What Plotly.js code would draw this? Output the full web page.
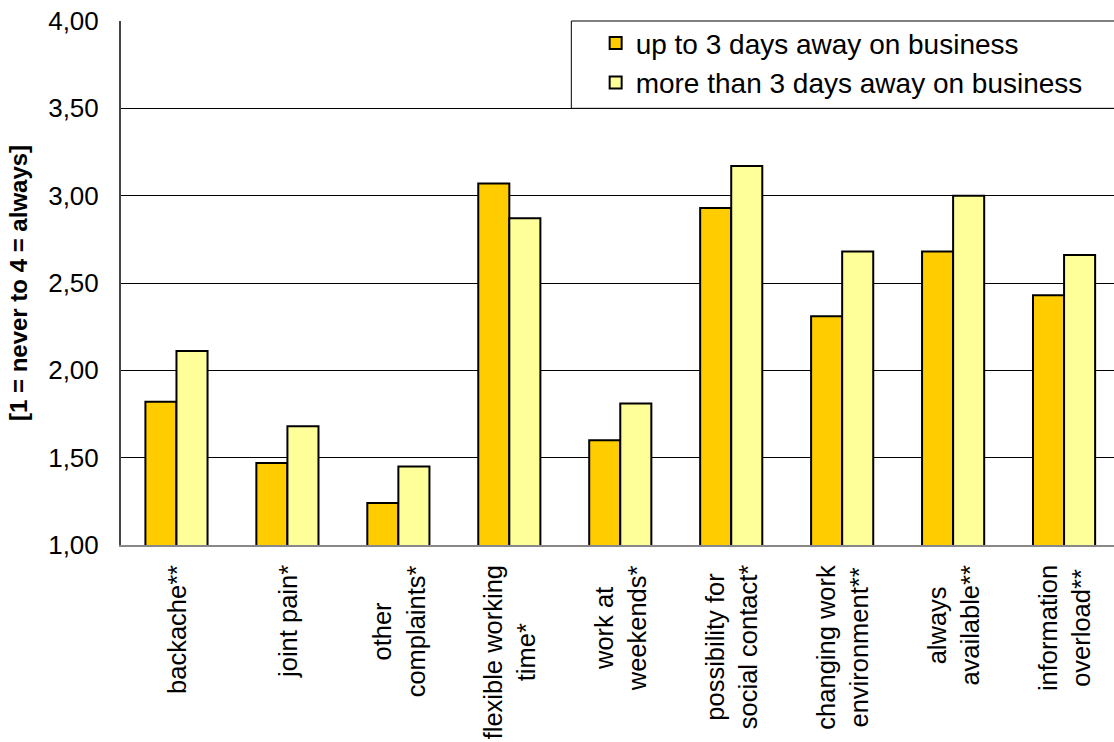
<!DOCTYPE html>
<html>
<head>
<meta charset="utf-8">
<script src="https://cdn.plot.ly/plotly-3.0.1.min.js"></script>
<style>html,body{margin:0;padding:0;background:#fff;}#chart{width:1114px;height:742px;}</style>
</head>
<body>
<div id="chart"></div>
<script>
const categories = ['backache**','joint pain*','other<br>complaints*','flexible working<br>time*','work at<br>weekends*','possibility for<br>social contact*','changing work<br>environment**','always<br>available**','information<br>overload**'];
const upTo3Days = [1.82,1.47,1.24,3.07,1.60,2.93,2.31,2.68,2.43];
const moreThan3Days = [2.11,1.68,1.45,2.87,1.81,3.17,2.68,3.00,2.66];
const seriesNames = ['up to 3 days away on business','more than 3 days away on business'];
const yTicks = [1,1.5,2,2.5,3,3.5,4];

const FONT = 'Arial, "Liberation Sans", sans-serif';

const traces = [
  {type:'bar', x:categories, y:upTo3Days, name:seriesNames[0],
   marker:{color:'#FFCC00', line:{color:'#000', width:2}}},
  {type:'bar', x:categories, y:moreThan3Days, name:seriesNames[1],
   marker:{color:'#FFFF99', line:{color:'#000', width:2}}}
];

const annotations = categories.map(c => ({
  x:c, xref:'x', y:0, yref:'paper', text:c, showarrow:false,
  textangle:-90, xanchor:'center', yanchor:'top', yshift:-19, align:'center',
  borderpad:0, font:{family:FONT, size:25.5, color:'#000'}
}));

const layout = {
  width:1114, height:742,
  margin:{l:121, r:0, t:21, b:197},
  paper_bgcolor:'#fff', plot_bgcolor:'#fff',
  font:{family:FONT, color:'#000'},
  barmode:'group', bargap:0.44, bargroupgap:0,
  separators:',.',
  showlegend:true,
  legend:{x:0.478, xanchor:'left', y:1.005, yanchor:'top', bgcolor:'rgba(0,0,0,0)',
          borderwidth:0, font:{family:FONT, size:28, color:'#000'}},
  xaxis:{type:'category', range:[-0.5, 8.45], showticklabels:false, ticks:'',
         showgrid:false, showline:true, linecolor:'#888', linewidth:2, zeroline:false, fixedrange:true},
  yaxis:{range:[1,4], tickvals:yTicks, tickformat:'.2f', showgrid:true, gridcolor:'#000', gridwidth:1,
         showline:true, linecolor:'#444', linewidth:2, zeroline:false, ticks:'', ticklabelstandoff:15,
         tickfont:{family:FONT, size:26, color:'#000'},
         title:{text:'<b>[1 = never to 4 = always]</b>', font:{family:FONT, size:24, color:'#000'}, standoff:14}},
  shapes:[
    {type:'rect', xref:'paper', yref:'paper', x0:0.4535, x1:1.05, y0:2.5/3, y1:1,
     line:{color:'#000', width:1}, fillcolor:'#fff', layer:'above'}
  ],
  annotations:annotations
};

Plotly.newPlot('chart', traces, layout, {displayModeBar:false, staticPlot:true});
</script>
</body>
</html>
